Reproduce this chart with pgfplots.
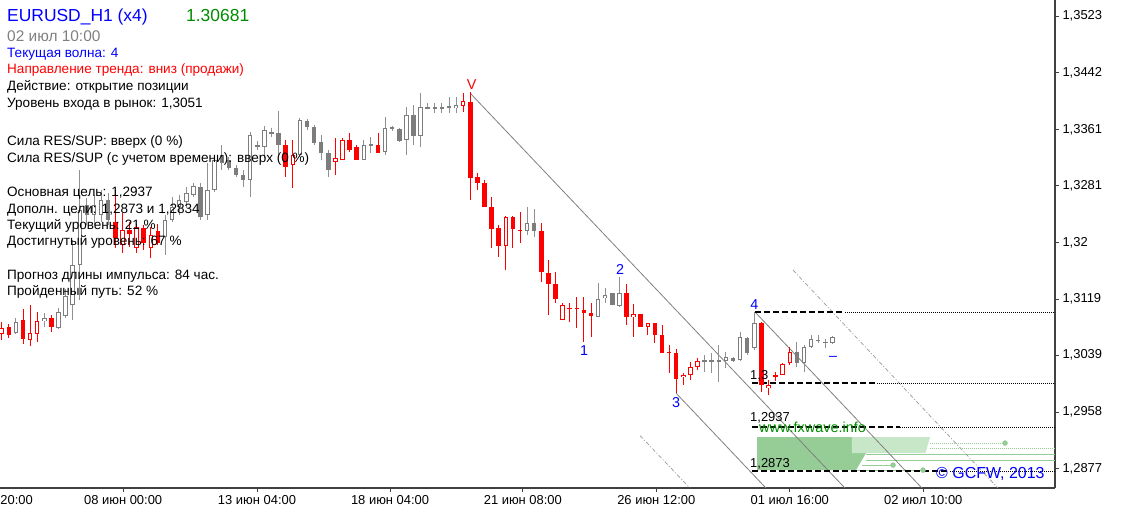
\documentclass[border=0pt]{standalone}
\usepackage{pgfplots}
\usepackage{pgfplotstable}
\pgfplotsset{compat=1.18}
\usepackage{fontspec}
\setmainfont{Liberation Sans}
\definecolor{cred}{RGB}{255,0,0}
\definecolor{cgray}{RGB}{125,125,125}
\definecolor{cblue}{RGB}{0,0,255}
\definecolor{cgreen}{RGB}{0,140,0}
\definecolor{lgreen}{RGB}{150,205,150}
\definecolor{llgreen}{RGB}{200,230,200}
\newcommand\fs[1]{\fontsize{#1}{#1}\selectfont}
\newcommand\tl[4]{\node[anchor=base west, inner sep=0pt, font=\fs{#3}] at (#1bp,#2bp) {#4};}
\pgfplotsset{candle/.style={only marks, mark=*, mark options={draw=none, fill=none, opacity=0}}}

\pgfplotstableread{
x o h l c t
0 1.30692 1.30863 1.30606 1.30777 1
1 1.30792 1.30835 1.30635 1.30678 1
2 1.30706 1.30920 1.30692 1.30863 0
3 1.30892 1.31049 1.30549 1.30620 1
4 1.30606 1.31106 1.30521 1.30706 1
5 1.30692 1.31006 1.30578 1.30877 1
6 1.30877 1.30992 1.30792 1.30920 0
7 1.30920 1.30963 1.30720 1.30792 1
8 1.30777 1.31063 1.30763 1.31006 0
9 1.30949 1.31334 1.30920 1.31234 0
10 1.31106 1.32033 1.30892 1.31676 0
11 1.31676 1.33032 1.31177 1.32461 0
12 1.32533 1.32633 1.32247 1.32390 0
13 1.32390 1.32675 1.32247 1.32533 0
14 1.32390 1.32747 1.32290 1.32604 0
15 1.32604 1.32704 1.32247 1.32319 0
16 1.32290 1.32747 1.31919 1.32062 1
17 1.31962 1.32419 1.31848 1.32176 1
18 1.32176 1.32290 1.31933 1.32119 1
19 1.31919 1.32262 1.31848 1.32219 1
20 1.32204 1.32247 1.31891 1.31990 1
21 1.31919 1.32219 1.31776 1.32105 1
22 1.32162 1.32262 1.31962 1.31990 1
23 1.32076 1.32390 1.31819 1.32319 0
24 1.32319 1.32647 1.32290 1.32504 0
25 1.32504 1.32675 1.32390 1.32604 0
26 1.32576 1.32790 1.32490 1.32704 0
27 1.32675 1.32847 1.32647 1.32804 0
28 1.32790 1.32847 1.32319 1.32361 0
29 1.32390 1.33132 1.32319 1.32747 0
30 1.32747 1.33246 1.32718 1.33175 0
31 1.33132 1.33389 1.33032 1.33246 0
32 1.33175 1.33218 1.33032 1.33061 0
33 1.33061 1.33103 1.32932 1.32961 0
34 1.32961 1.33032 1.32790 1.32889 0
35 1.32889 1.33574 1.32647 1.33532 0
36 1.33375 1.33446 1.33318 1.33389 0
37 1.33360 1.33660 1.33203 1.33603 0
38 1.33560 1.33631 1.33503 1.33574 0
39 1.33560 1.33874 1.33246 1.33389 0
40 1.33389 1.33460 1.32932 1.33075 1
41 1.33103 1.33460 1.32775 1.33246 1
42 1.33246 1.33774 1.33218 1.33746 0
43 1.33731 1.33760 1.33603 1.33646 0
44 1.33646 1.33674 1.33389 1.33417 0
45 1.33432 1.33532 1.33175 1.33275 0
46 1.33275 1.33318 1.32932 1.33032 0
47 1.33146 1.33489 1.32961 1.33203 1
48 1.33175 1.33489 1.33175 1.33460 1
49 1.33460 1.33560 1.33289 1.33318 1
50 1.33360 1.33389 1.33175 1.33175 1
51 1.33175 1.33460 1.33175 1.33389 0
52 1.33389 1.33503 1.33275 1.33403 0
53 1.33389 1.33560 1.33275 1.33275 1
54 1.33289 1.33788 1.33246 1.33631 0
55 1.33631 1.33660 1.33589 1.33646 0
56 1.33617 1.33631 1.33432 1.33446 0
57 1.33460 1.33931 1.33246 1.33817 0
58 1.33817 1.33960 1.33389 1.33517 0
59 1.33517 1.34131 1.33360 1.33931 0
60 1.33917 1.33988 1.33917 1.33931 0
61 1.33917 1.33988 1.33845 1.33931 0
62 1.33917 1.33988 1.33845 1.33931 0
63 1.33931 1.34074 1.33845 1.33945 0
64 1.33917 1.34074 1.33845 1.33960 0
65 1.33945 1.34131 1.33860 1.34017 1
66 1.34002 1.34145 1.32604 1.32918 1
67 1.32932 1.32989 1.32747 1.32847 1
68 1.32847 1.32889 1.32504 1.32504 1
69 1.32504 1.32647 1.31919 1.32190 1
70 1.32204 1.32247 1.31791 1.31948 1
71 1.31948 1.32376 1.31605 1.32361 1
72 1.32361 1.32376 1.31919 1.32190 1
73 1.32176 1.32433 1.31990 1.32169 1
74 1.32162 1.32504 1.32105 1.32276 0
75 1.32276 1.32476 1.32076 1.32162 0
76 1.32162 1.32276 1.31434 1.31577 1
77 1.31562 1.31748 1.30963 1.31405 1
78 1.31405 1.31577 1.31134 1.31191 1
79 1.30892 1.31134 1.30892 1.31106 1
80 1.31063 1.31134 1.30863 1.31055 1
81 1.31063 1.31220 1.30777 1.31055 1
82 1.31034 1.31220 1.30578 1.30992 1
83 1.30992 1.31134 1.30649 1.30949 1
84 1.30934 1.31420 1.30934 1.31191 0
85 1.31206 1.31348 1.31134 1.31248 0
86 1.31277 1.31277 1.31106 1.31106 0
87 1.31091 1.31505 1.31077 1.31277 0
88 1.31277 1.31405 1.30820 1.30934 1
89 1.30934 1.31120 1.30649 1.30977 1
90 1.30977 1.30977 1.30792 1.30792 1
91 1.30792 1.30849 1.30678 1.30849 1
92 1.30849 1.30849 1.30563 1.30678 1
93 1.30678 1.30820 1.30421 1.30421 1
94 1.30435 1.30535 1.30135 1.30428 1
95 1.30421 1.30478 1.29850 1.30050 1
96 1.30078 1.30135 1.29964 1.30107 1
97 1.30107 1.30292 1.30035 1.30221 1
98 1.30221 1.30349 1.30178 1.30306 1
99 1.30306 1.30392 1.30150 1.30314 0
100 1.30306 1.30421 1.30135 1.30314 0
101 1.30306 1.30535 1.30007 1.30314 0
102 1.30306 1.30435 1.30207 1.30364 0
103 1.30349 1.30364 1.30292 1.30306 0
104 1.30321 1.30720 1.30306 1.30649 0
105 1.30635 1.30649 1.30392 1.30421 0
106 1.30492 1.31006 1.30464 1.30849 0
107 1.30849 1.30863 1.29864 1.29964 1
108 1.29921 1.30035 1.29821 1.29964 1
109 1.30107 1.30150 1.30021 1.30092 1
110 1.30107 1.30278 1.30107 1.30264 1
111 1.30278 1.30506 1.30249 1.30435 1
112 1.30435 1.30578 1.30221 1.30278 0
113 1.30278 1.30535 1.30150 1.30506 0
114 1.30506 1.30678 1.30492 1.30620 0
115 1.30606 1.30678 1.30563 1.30599 0
116 1.30578 1.30620 1.30492 1.30571 0
117 1.30563 1.30663 1.30549 1.30649 0
}\candles

\begin{document}
\begin{tikzpicture}
\useasboundingbox (0,0) rectangle (1123bp,516bp);
\begin{axis}[
  at={(0,28bp)}, anchor=south west, scale only axis,
  width=1055bp, height=488bp,
  xmin=-0.24, xmax=148.35, ymin=1.28496, ymax=1.35458,
  axis x line*=bottom, axis y line*=right,
  axis line style={-, line width=1.3bp, black!75},
  tick align=outside, major tick length=4bp,
  tick style={black!75, line width=0.8bp},
  xtick={17.1,35.96,54.7,73.4,92.2,111.0,129.8},
  xticklabels={08 июн 00:00,13 июн 04:00,18 июн 04:00,21 июн 08:00,26 июн 12:00,01 июл 16:00,02 июл 10:00},
  ytick={1.2877,1.2958,1.3039,1.3119,1.32,1.3281,1.3361,1.3442,1.3523},
  yticklabels={{1,2877},{1,2958},{1,3039},{1,3119},{1,32},{1,3281},{1,3361},{1,3442},{1,3523}},
  tick label style={font=\fs{13}, black},
  minor tick num=0,
]
% ---- green target zone
\addplot[fill=lgreen, draw=none] coordinates {(106.38,1.29222) (119.75,1.29222) (119.75,1.28994) (121.73,1.28994) (120.32,1.28751) (106.38,1.28751)} -- cycle;
\addplot[fill=llgreen, draw=none] coordinates {(119.75,1.29222) (130.75,1.29222) (130.1,1.28994) (119.75,1.28994)} -- cycle;
\addplot[lgreen, line width=0.8bp, dash pattern=on 1bp off 1bp] coordinates {(130.75,1.29137) (141.31,1.29137)};
\addplot[lgreen, line width=0.8bp, dash pattern=on 1bp off 1bp] coordinates {(130.75,1.29065) (148.35,1.29065)};
\addplot[lgreen, line width=0.8bp] coordinates {(121.73,1.28980) (148.35,1.28980)};
\addplot[lgreen, line width=0.8bp] coordinates {(121.73,1.28894) (148.35,1.28894)};
\addplot[lgreen, line width=0.8bp] coordinates {(121.17,1.28823) (125.54,1.28823)};
\addplot[lgreen, line width=0.8bp] coordinates {(120.32,1.28751) (129.76,1.28751)};
\addplot[only marks, mark=*, mark size=2.5bp, lgreen] coordinates {(141.31,1.29137) (125.54,1.28823) (129.76,1.28751)};
% ---- channel lines
\addplot[gray, line width=0.8bp] coordinates {(65.96,1.34131) (118.77,1.28494)};
\addplot[gray, line width=0.8bp] coordinates {(94.97,1.29850) (107.65,1.28494)};
\addplot[gray, line width=0.8bp] coordinates {(106.1,1.31006) (129.61,1.28494)};
\addplot[gray!80, line width=0.7bp, dash pattern=on 4bp off 2bp on 1bp off 2bp] coordinates {(111.45,1.31605) (140.32,1.28494)};
\addplot[gray!80, line width=0.7bp, dash pattern=on 4bp off 2bp on 1bp off 2bp] coordinates {(89.9,1.29244) (96.94,1.28494)};
% ---- levels
\addplot[black, line width=2bp, dash pattern=on 6bp off 3bp] coordinates {(106.1,1.31006) (118.77,1.31006)};
\addplot[black, line width=0.8bp, dash pattern=on 1bp off 1bp] coordinates {(118.77,1.31006) (148.35,1.31006)};
\addplot[black, line width=2bp, dash pattern=on 6bp off 3bp] coordinates {(105.68,1.29993) (123.28,1.29993)};
\addplot[black, line width=0.8bp, dash pattern=on 1bp off 1bp] coordinates {(123.28,1.29993) (148.35,1.29993)};
\addplot[black, line width=2bp, dash pattern=on 6bp off 3bp] coordinates {(105.68,1.2936) (126.52,1.2936)};
\addplot[black, line width=0.8bp, dash pattern=on 1bp off 1bp] coordinates {(126.52,1.2936) (148.35,1.2936)};
\addplot[black, line width=2bp, dash pattern=on 6bp off 3bp] coordinates {(105.68,1.28737) (133.56,1.28737)};
\addplot[black, line width=0.8bp, dash pattern=on 1bp off 1bp] coordinates {(133.56,1.28737) (148.35,1.28737)};
% ---- candles: gray
\addplot[candle, restrict expr to domain={\thisrow{t}}{-0.5:0.5},
  error bars/.cd, y dir=both, y explicit, error mark=none,
  error bar style={line width=1bp, draw=cgray!85}]
  table[x=x, y expr={(\thisrow{h}+\thisrow{l})/2}, y error expr={(\thisrow{h}-\thisrow{l})/2}] {\candles};
\addplot[candle, restrict expr to domain={\thisrow{t}}{-0.5:0.5},
  error bars/.cd, y dir=both, y explicit, error mark=none,
  error bar style={line width=4.5bp, draw=cgray}]
  table[x=x, y expr={(\thisrow{o}+\thisrow{c})/2}, y error expr={max(abs(\thisrow{c}-\thisrow{o})/2,0.00007)}] {\candles};
\addplot[candle, restrict expr to domain={\thisrow{t}}{-0.5:0.5},
  error bars/.cd, y dir=both, y explicit, error mark=none,
  error bar style={line width=2.5bp, draw=white}]
  table[x=x, y expr={(\thisrow{o}+\thisrow{c})/2}, y error expr={max((\thisrow{c}-\thisrow{o})/2-0.00014,0)}] {\candles};
% ---- candles: red
\addplot[candle, restrict expr to domain={\thisrow{t}}{0.5:1.5},
  error bars/.cd, y dir=both, y explicit, error mark=none,
  error bar style={line width=1bp, draw=cred}]
  table[x=x, y expr={(\thisrow{h}+\thisrow{l})/2}, y error expr={(\thisrow{h}-\thisrow{l})/2}] {\candles};
\addplot[candle, restrict expr to domain={\thisrow{t}}{0.5:1.5},
  error bars/.cd, y dir=both, y explicit, error mark=none,
  error bar style={line width=4.5bp, draw=cred}]
  table[x=x, y expr={(\thisrow{o}+\thisrow{c})/2}, y error expr={max(abs(\thisrow{c}-\thisrow{o})/2,0.00007)}] {\candles};
\addplot[candle, restrict expr to domain={\thisrow{t}}{0.5:1.5},
  error bars/.cd, y dir=both, y explicit, error mark=none,
  error bar style={line width=2.5bp, draw=white}]
  table[x=x, y expr={(\thisrow{o}+\thisrow{c})/2}, y error expr={max((\thisrow{c}-\thisrow{o})/2-0.00014,0)}] {\candles};
\end{axis}
% ---- partial first date label
\node[anchor=base east, inner sep=0pt, font=\fs{13}] at (33bp,12bp) {04 июн 20:00};
% ---- info text
\tl{7}{494}{17.5}{\color{cblue}EURUSD\_H1 (x4)}
\tl{186}{494}{17.5}{\color{cgreen}1.30681}
\tl{7}{474.3}{15.5}{\color{gray}02 июл 10:00}
\tl{7}{458.7}{13.6}{\color{cblue}Текущая волна: 4}
\tl{7}{442}{13.6}{\color{cred}Направление тренда: вниз (продажи)}
\tl{7}{425.3}{13.6}{Действие: открытие позиции}
\tl{7}{408.7}{13.6}{Уровень входа в рынок: 1,3051}
\tl{7}{370}{13.6}{Сила RES/SUP: вверх (0 \%)}
\tl{7}{353.7}{13.6}{Сила RES/SUP (с учетом времени): вверх (0 \%)}
\tl{7}{319.3}{13.6}{Основная цель: 1,2937}
\tl{7}{302.7}{13.6}{Дополн. цели: 1,2873 и 1,2834}
\tl{7}{286.7}{13.6}{Текущий уровень: 21 \%}
\tl{7}{270}{13.6}{Достигнутый уровень: 67 \%}
\tl{7}{236.7}{13.6}{Прогноз длины импульса: 84 час.}
\tl{7}{220}{13.6}{Пройденный путь: 52 \%}
% ---- level labels
\tl{750}{136.7}{13}{1,3}
\tl{750}{94}{13}{1,2937}
\tl{750}{48.7}{13}{1,2873}
\tl{759}{83}{14.5}{\color{cgreen}www.fxwave.info}
\tl{936}{37.7}{16}{\color{cblue}© GCFW, 2013}
% ---- wave marks
\node[anchor=base, inner sep=0pt, font=\fs{14.4}, text=cred] at (471.7bp,426.7bp) {V};
\node[anchor=base, inner sep=0pt, font=\fs{14.4}, text=cblue] at (584bp,160bp) {1};
\node[anchor=base, inner sep=0pt, font=\fs{14.4}, text=cblue] at (620bp,241bp) {2};
\node[anchor=base, inner sep=0pt, font=\fs{14.4}, text=cblue] at (676bp,108.3bp) {3};
\node[anchor=base, inner sep=0pt, font=\fs{14.4}, text=cblue] at (754.3bp,206bp) {4};
\node[anchor=base, inner sep=0pt, font=\fs{14.4}, text=cblue] at (833bp,155bp) {–};
\end{tikzpicture}
\end{document}
